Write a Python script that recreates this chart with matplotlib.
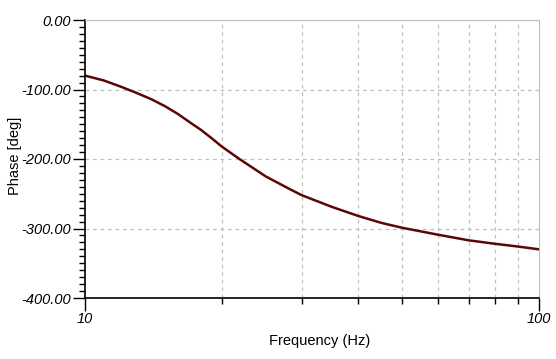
import matplotlib
matplotlib.use("Agg")
import matplotlib.pyplot as plt
from matplotlib.ticker import FixedLocator, NullFormatter, MultipleLocator

# phase response
freq = [10, 11, 12, 13, 14, 15, 16, 17, 18, 19, 20, 22, 25, 28, 30,
        35, 40, 45, 50, 60, 70, 80, 90, 100]
phase = [-80, -87, -96, -105, -114, -124, -135, -147, -158, -170, -182,
         -201, -225, -242, -252, -269, -282, -292, -299, -309, -317,
         -322, -326, -330]

yticks = [0, -100, -200, -300, -400]
xminor = [20, 30, 40, 50, 60, 70, 80, 90]

LINE = "#5c0606"
LIGHT = "#c0c0c0"

plt.rcParams["font.family"] = ["Liberation Sans", "DejaVu Sans"]

fig = plt.figure(figsize=(5.56, 3.59), dpi=100)
ax = fig.add_axes([85 / 556, 1 - 298 / 359, 454 / 556, 278 / 359])

ax.plot(freq, phase, color=LINE, lw=1.8)

ax.set_xscale("log")
ax.set_xlim(10, 100)
ax.set_ylim(-400, 0)

ax.xaxis.set_major_locator(FixedLocator([10, 100]))
ax.xaxis.set_minor_locator(FixedLocator(xminor))
ax.xaxis.set_minor_formatter(NullFormatter())
ax.set_xticklabels(["10", "100"], fontstyle="italic", fontsize=10.5)

ax.set_yticks(yticks)
ax.set_yticklabels([f"{v:.2f}" for v in yticks], fontstyle="italic", fontsize=10.5)
ax.yaxis.set_minor_locator(MultipleLocator(10))

ax.tick_params(which="major", length=9, width=1, color="black")
ax.tick_params(axis="y", which="major", pad=1)
ax.tick_params(axis="x", which="major", pad=1)
ax.tick_params(which="minor", length=4, width=1, color="black")

ax.grid(which="minor", axis="x", color=LIGHT, ls=(0, (3, 3)), lw=0.9)
ax.grid(which="major", axis="y", color=LIGHT, ls=(0, (3, 3)), lw=0.9)
ax.set_axisbelow(True)

for side in ("top", "right"):
    ax.spines[side].set_color(LIGHT)
for side in ("left", "bottom"):
    ax.spines[side].set_color("black")
    ax.spines[side].set_linewidth(1.2)

ax.set_xlabel("Frequency (Hz)", fontsize=10.5, labelpad=2)
ax.xaxis.set_label_coords(0.5 + 8 / 454, -36 / 278)
ax.set_ylabel("Phase [deg]", fontsize=10.5)
ax.yaxis.set_label_coords(-63 / 454, 0.5 + 3 / 278)

fig.savefig("out.png", dpi=100, facecolor="white")
